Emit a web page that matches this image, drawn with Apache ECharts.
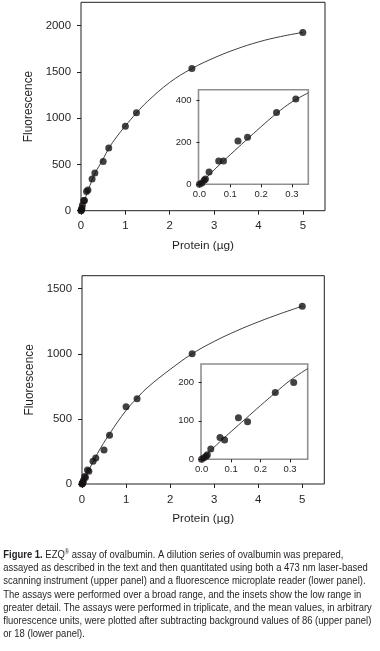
<!DOCTYPE html>
<html><head><meta charset="utf-8">
<script src="https://cdn.jsdelivr.net/npm/echarts@6/dist/echarts.min.js"></script>
<style>html,body{margin:0;padding:0;background:#fff}#c{width:380px;height:651px}</style>
</head><body><div id="c"></div>
<script>
// ---- data ----
const proteinUpper = [0, 0.0078, 0.0156, 0.0195, 0.03125, 0.0625, 0.078, 0.125, 0.156, 0.25, 0.3125, 0.5, 0.625, 1, 1.25, 2.5, 5];
const fluorUpper   = [0, 6, 19, 25, 59, 111, 111, 206, 224, 341, 406, 530, 676, 912, 1057, 1535, 1924];
const fitUpperX    = [0, 0.1, 0.2, 0.3125, 0.5, 0.625, 0.8, 1, 1.25, 1.5, 2, 2.5, 3, 3.5, 4, 4.5, 5];
const fitUpperY    = [0, 140, 270, 400, 560, 672, 795, 915, 1055, 1180, 1385, 1535, 1650, 1745, 1822, 1880, 1925];
const insetFitUpperX = [0, 0.05, 0.1, 0.15, 0.2, 0.25, 0.3, 0.353];
const insetFitUpperY = [0, 72, 141, 208, 274, 337, 392, 435];

const proteinLower = [0, 0.0078, 0.0156, 0.0195, 0.03125, 0.0625, 0.078, 0.125, 0.156, 0.25, 0.3125, 0.5, 0.625, 1, 1.25, 2.5, 5];
const fluorLower   = [0, 4, 8, 12, 27, 57, 50, 108, 98, 174, 200, 262, 375, 593, 655, 1000, 1366];
const fitLowerX    = [0, 0.35, 0.625, 1, 1.25, 1.5, 2, 2.5, 3, 3.5, 4, 4.5, 5];
const fitLowerY    = [0, 233, 385, 565, 660, 745, 880, 1000, 1095, 1175, 1245, 1308, 1366];
const insetFitLowerX = [0, 0.05, 0.1, 0.15, 0.2, 0.25, 0.3, 0.36];
const insetFitLowerY = [0, 37, 72, 106, 140, 173, 205, 236];

const mainXTicks = [0, 1, 2, 3, 4, 5];
const upperYTicks = [0, 500, 1000, 1500, 2000];
const lowerYTicks = [0, 500, 1000, 1500];
const insetXTicks = [0, 0.1, 0.2, 0.3];
const upperInsetYTicks = [0, 200, 400];
const lowerInsetYTicks = [0, 100, 200];
const xTitle = 'Protein (\u00b5g)';
const yTitle = 'Fluorescence';

const captionBold = 'Figure 1.';
const captionLines = [
  ' EZQ',
  'assayed as described in the text and then quantitated using both a 473 nm laser-based',
  'scanning instrument (upper panel) and a fluorescence microplate reader (lower panel).',
  'The assays were performed over a broad range, and the insets show the low range in',
  'greater detail. The assays were performed in triplicate, and the mean values, in arbitrary',
  'fluorescence units, were plotted after subtracting background values of 86 (upper panel)',
  'or 18 (lower panel).'
];
const captionLine1Rest = ' assay of ovalbumin. A dilution series of ovalbumin was prepared,';

// ---- helpers ----
const INK = '#231f20';
const DOT = '#151213';
const FONT = '"Liberation Sans", Arial, Helvetica, sans-serif';
const zip = (xs, ys) => xs.map((x, i) => [x, ys[i]]);
const inInset = (xs, ys, lim) => zip(xs, ys).filter(p => p[0] <= lim);

function xAxis(gi, min, max, ticks, main, fmt) {
  return {
    type: 'value', gridIndex: gi, min, max,
    axisLine: { show: false },
    splitLine: { show: false },
    axisTick: { show: true, customValues: ticks, length: main ? 4 : 3, lineStyle: { color: INK, width: 1 } },
    axisLabel: { show: true, customValues: ticks, margin: main ? 10 : 5, color: INK,
      fontFamily: FONT, fontSize: main ? 11.4 : 9.5, formatter: fmt || (v => String(v)) },
    name: main ? xTitle : '', nameLocation: 'middle', nameGap: 29,
    nameTextStyle: { color: INK, fontFamily: FONT, fontSize: 11.8 }
  };
}
function yAxis(gi, min, max, ticks, main) {
  return {
    type: 'value', gridIndex: gi, min, max,
    axisLine: { show: false },
    splitLine: { show: false },
    axisTick: { show: true, customValues: ticks, length: main ? 4 : 3, lineStyle: { color: INK, width: 1 } },
    axisLabel: { show: true, customValues: ticks, margin: main ? 10 : 7, color: INK,
      fontFamily: FONT, fontSize: main ? 11.4 : 9.5, formatter: v => String(v) },
    name: main ? yTitle : '', nameLocation: 'middle', nameRotate: 90, nameGap: 38,
    nameTextStyle: { color: INK, fontFamily: FONT, fontSize: 11.9 }
  };
}
function dots(ai, data, z) {
  return { type: 'scatter', xAxisIndex: ai, yAxisIndex: ai, data, symbol: 'circle', symbolSize: 7,
    itemStyle: { color: DOT }, clip: false, z: z, silent: true };
}
function fit(ai, data, z) {
  return { type: 'line', xAxisIndex: ai, yAxisIndex: ai, data, smooth: 0.4, showSymbol: false,
    lineStyle: { color: '#2a2a2a', width: 0.9 }, z: z, silent: true, clip: true };
}

// ---- caption layout (measure text to fit the condensed face of the original) ----
const CAP_SIZE = 10.6;
const cv = document.createElement('canvas').getContext('2d');
function w(t, bold, size) { cv.font = (bold ? 'bold ' : '') + (size || CAP_SIZE) + 'px ' + FONT; return cv.measureText(t).width; }
const targetW = [359.4, 366.7, 351, 369, 375];
const srcW = [captionLines[1], captionLines[2], captionLines[3], captionLines[4], captionLines[5]].map(t => w(t));
const SX = targetW.reduce((a, b) => a + b, 0) / srcW.reduce((a, b) => a + b, 0);
const CAP_LEFT = 3.3, MID0 = 555, LH = 13.2;
const graphics = [];
let cx = CAP_LEFT;
function capText(t, x, yMid, bold, size) {
  graphics.push({ type: 'text', x, y: yMid, scaleX: SX, originX: 0, z: 20,
    style: { text: t, fill: INK, font: (bold ? 'bold ' : '') + (size || CAP_SIZE) + 'px ' + FONT, verticalAlign: 'middle', align: 'left' }, silent: true });
}
// line 1: bold lead, EZQ, superscript, rest
capText(captionBold, cx, MID0, true); cx += w(captionBold, true) * SX;
capText(captionLines[0], cx, MID0, false); cx += w(captionLines[0]) * SX;
capText('\u00ae', cx, MID0 - 3.2, false, 6.5); cx += w('\u00ae', false, 6.5) * SX;
capText(captionLine1Rest, cx, MID0, false);
for (let i = 1; i < captionLines.length; i++) capText(captionLines[i], CAP_LEFT, MID0 + LH * i, false);

const option = {
  animation: false,
  backgroundColor: '#fff',
  grid: [
    { left: 81, top: 2.3, width: 244, height: 208.4, show: true, borderColor: INK, borderWidth: 1, backgroundColor: 'transparent', containLabel: false },
    { left: 198.5, top: 89.7, width: 109.8, height: 94.6, show: true, borderColor: '#8f8f8f', borderWidth: 1.6, backgroundColor: '#fff', containLabel: false },
    { left: 82, top: 275.7, width: 242.3, height: 208.3, show: true, borderColor: INK, borderWidth: 1, backgroundColor: 'transparent', containLabel: false },
    { left: 201, top: 364, width: 106.7, height: 95.3, show: true, borderColor: '#8f8f8f', borderWidth: 1.6, backgroundColor: '#fff', containLabel: false }
  ],
  xAxis: [
    xAxis(0, 0, 5.5, mainXTicks, true),
    xAxis(1, -0.003, 0.353, insetXTicks, false, v => v.toFixed(1)),
    xAxis(2, 0, 5.5, mainXTicks, true),
    xAxis(3, -0.002, 0.36, insetXTicks, false, v => v.toFixed(1))
  ],
  yAxis: [
    yAxis(0, 0, 2250, upperYTicks, true),
    yAxis(1, 0, 450, upperInsetYTicks, false),
    yAxis(2, 0, 1600, lowerYTicks, true),
    yAxis(3, 0, 248, lowerInsetYTicks, false)
  ],
  series: [
    fit(0, zip(fitUpperX, fitUpperY), 2),
    dots(0, zip(proteinUpper, fluorUpper), 3),
    fit(1, zip(insetFitUpperX, insetFitUpperY), 10),
    dots(1, inInset(proteinUpper, fluorUpper, 0.35), 11),
    fit(2, zip(fitLowerX, fitLowerY), 2),
    dots(2, zip(proteinLower, fluorLower), 3),
    fit(3, zip(insetFitLowerX, insetFitLowerY), 10),
    dots(3, inInset(proteinLower, fluorLower, 0.36), 11)
  ],
  graphic: graphics
};
const chart = echarts.init(document.getElementById('c'));
chart.setOption(option);
</script>
</body></html>
